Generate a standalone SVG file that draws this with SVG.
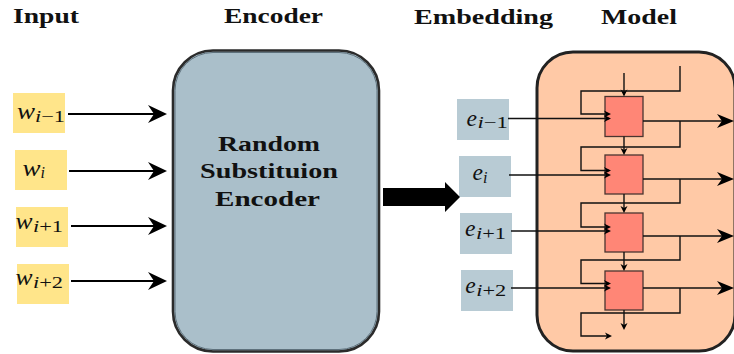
<svg xmlns="http://www.w3.org/2000/svg" width="734" height="354" viewBox="0 0 734 354">
<style>
  .hdr { font-family: "Liberation Serif", "Times New Roman", serif; font-weight: bold; font-size: 22px; fill: #111; }
  .enc { font-family: "Liberation Serif", "Times New Roman", serif; font-weight: bold; font-size: 20px; fill: #111; }
  .m { font-family: "Liberation Serif", "Times New Roman", serif; font-style: italic; font-size: 24px; fill: #111; }
  .s { font-family: "Liberation Serif", "Times New Roman", serif; font-size: 16px; fill: #111; }
  .si { font-style: italic; }
  .inbox { fill: #FFE58A; }
  .embox { fill: #B8CBD4; }
  .cell { fill: #FF8676; stroke: #4A3530; stroke-width: 1.3; }
  .big { stroke: #000; stroke-width: 2; fill: none; }
  .thin { stroke: #111; stroke-width: 1.4; fill: none; }
</style>
<defs>
  <marker id="bigHead" viewBox="-20 -10 21 20" refX="-5" refY="0" markerWidth="21" markerHeight="20" markerUnits="userSpaceOnUse" orient="auto">
    <path d="M0,0 L-19,-9 L-13,0 L-19,9 Z" fill="#000"/>
  </marker>
  <marker id="outHead" viewBox="-18 -8 19 16" refX="-5" refY="0" markerWidth="19" markerHeight="16" markerUnits="userSpaceOnUse" orient="auto">
    <path d="M0,0 L-17,-7 L-12,0 L-17,7 Z" fill="#000"/>
  </marker>
  <marker id="smallHead" viewBox="-8 -4 9 8" refX="-2" refY="0" markerWidth="9" markerHeight="8" markerUnits="userSpaceOnUse" orient="auto">
    <path d="M0,0 L-7,-3.5 L-5,0 L-7,3.5 Z" fill="#000"/>
  </marker>
</defs>

<g id="headers">
  <text class="hdr" x="13" y="23" textLength="66" lengthAdjust="spacingAndGlyphs">Input</text>
  <text class="hdr" x="224" y="23" textLength="99" lengthAdjust="spacingAndGlyphs">Encoder</text>
  <text class="hdr" x="414" y="24" textLength="139" lengthAdjust="spacingAndGlyphs">Embedding</text>
  <text class="hdr" x="601" y="24" textLength="76" lengthAdjust="spacingAndGlyphs">Model</text>
</g>

<g id="encoder">
  <rect x="173" y="50.5" width="206" height="301" rx="40" ry="40" fill="#AABFCA" stroke="#2B2B2B" stroke-width="2.6"/>
  <rect x="175" y="52.5" width="202" height="297" rx="38" ry="38" fill="none" stroke="#5E717C" stroke-width="1"/>
  <text class="enc" x="218" y="151" textLength="102" lengthAdjust="spacingAndGlyphs">Random</text>
  <text class="enc" x="200" y="178" textLength="138" lengthAdjust="spacingAndGlyphs">Substituion</text>
  <text class="enc" x="215" y="206" textLength="105" lengthAdjust="spacingAndGlyphs">Encoder</text>
</g>

<g id="model">
  <rect x="537" y="52" width="198" height="299" rx="36" ry="36" fill="#FFC9A6" stroke="#222" stroke-width="3"/>
</g>

<g id="in_wim1">
  <rect class="inbox" x="13" y="93" width="52" height="40"/>
  <text class="m" x="17" y="119" textLength="18" lengthAdjust="spacingAndGlyphs">w</text>
  <text class="s" x="35" y="122" textLength="30" lengthAdjust="spacingAndGlyphs"><tspan class="si">i</tspan>−1</text>
</g>
<g id="in_wi">
  <rect class="inbox" x="15" y="150" width="52" height="40"/>
  <text class="m" x="22.5" y="175.5" textLength="18" lengthAdjust="spacingAndGlyphs">w</text>
  <text class="s si" x="40.5" y="178">i</text>
</g>
<g id="in_wip1">
  <rect class="inbox" x="16" y="207" width="52" height="40"/>
  <text class="m" x="15.5" y="229" textLength="17" lengthAdjust="spacingAndGlyphs">w</text>
  <text class="s" x="33" y="232" textLength="30" lengthAdjust="spacingAndGlyphs"><tspan class="si">i</tspan>+1</text>
</g>
<g id="in_wip2">
  <rect class="inbox" x="17" y="264" width="52" height="40"/>
  <text class="m" x="15.5" y="285" textLength="17" lengthAdjust="spacingAndGlyphs">w</text>
  <text class="s" x="33" y="288" textLength="30" lengthAdjust="spacingAndGlyphs"><tspan class="si">i</tspan>+2</text>
</g>

<g id="em_eim1">
  <rect class="embox" x="457" y="99" width="52" height="41"/>
  <text class="m" x="466.5" y="125.5" textLength="10.5" lengthAdjust="spacingAndGlyphs">e</text>
  <text class="s" x="477.5" y="128" textLength="30.5" lengthAdjust="spacingAndGlyphs"><tspan class="si">i</tspan>−1</text>
</g>
<g id="em_ei">
  <rect class="embox" x="459" y="156" width="52" height="41"/>
  <text class="m" x="472.5" y="180" textLength="10.5" lengthAdjust="spacingAndGlyphs">e</text>
  <text class="s si" x="483" y="183">i</text>
</g>
<g id="em_eip1">
  <rect class="embox" x="460" y="213" width="52" height="41"/>
  <text class="m" x="465" y="236" textLength="10.5" lengthAdjust="spacingAndGlyphs">e</text>
  <text class="s" x="476" y="238.5" textLength="30" lengthAdjust="spacingAndGlyphs"><tspan class="si">i</tspan>+1</text>
</g>
<g id="em_eip2">
  <rect class="embox" x="461" y="270" width="52" height="41"/>
  <text class="m" x="465.3" y="293" textLength="10.5" lengthAdjust="spacingAndGlyphs">e</text>
  <text class="s" x="476.3" y="295.5" textLength="30" lengthAdjust="spacingAndGlyphs"><tspan class="si">i</tspan>+2</text>
</g>

<g id="cell1"><rect class="cell" x="605" y="96.5" width="38" height="40"/></g>
<g id="cell2"><rect class="cell" x="605" y="155" width="38" height="39"/></g>
<g id="cell3"><rect class="cell" x="605" y="213" width="38" height="39"/></g>
<g id="cell4"><rect class="cell" x="605" y="271" width="38" height="39"/></g>

<g id="connectors">
  <!-- input to encoder -->
  <line class="big" x1="68" y1="114" x2="162" y2="114" marker-end="url(#bigHead)"/>
  <line class="big" x1="69" y1="171" x2="162" y2="171" marker-end="url(#bigHead)"/>
  <line class="big" x1="71" y1="226" x2="162" y2="226" marker-end="url(#bigHead)"/>
  <line class="big" x1="71" y1="281" x2="162" y2="281" marker-end="url(#bigHead)"/>
  <!-- encoder to embedding -->
  <path d="M383,188 L445,188 L445,182 L460,197 L445,212 L445,206 L383,206 Z" fill="#000"/>
  <!-- embeddings into cells -->
  <line class="thin" x1="508" y1="118.5" x2="609" y2="118.5" marker-end="url(#smallHead)"/>
  <line class="thin" x1="509" y1="175" x2="609" y2="175" marker-end="url(#smallHead)"/>
  <line class="thin" x1="511" y1="231" x2="609" y2="231" marker-end="url(#smallHead)"/>
  <line class="thin" x1="511" y1="288" x2="609" y2="288" marker-end="url(#smallHead)"/>
  <!-- vertical chain -->
  <line class="thin" x1="624" y1="73" x2="624" y2="94.5" marker-end="url(#smallHead)"/>
  <line class="thin" x1="624" y1="136.5" x2="624" y2="153" marker-end="url(#smallHead)"/>
  <line class="thin" x1="624" y1="194" x2="624" y2="211" marker-end="url(#smallHead)"/>
  <line class="thin" x1="624" y1="252" x2="624" y2="269" marker-end="url(#smallHead)"/>
  <line class="thin" x1="624" y1="310" x2="624" y2="328" marker-end="url(#smallHead)"/>
  <!-- loops -->
  <path class="thin" d="M680,66 L680,91 L581,91 L581,114 L609,114" marker-end="url(#smallHead)"/>
  <path class="thin" d="M680,121 L680,147 L581,147 L581,170.5 L609,170.5" marker-end="url(#smallHead)"/>
  <path class="thin" d="M680,179 L680,203 L581,203 L581,227 L609,227" marker-end="url(#smallHead)"/>
  <path class="thin" d="M680,236 L680,260 L581,260 L581,283.5 L609,283.5" marker-end="url(#smallHead)"/>
  <path class="thin" d="M680,288 L680,313 L581,313 L581,336 L610,336" marker-end="url(#smallHead)"/>
  <!-- outputs -->
  <line class="thin" x1="643" y1="121" x2="729" y2="121" marker-end="url(#outHead)"/>
  <line class="thin" x1="643" y1="179" x2="729" y2="179" marker-end="url(#outHead)"/>
  <line class="thin" x1="643" y1="236" x2="729" y2="236" marker-end="url(#outHead)"/>
  <line class="thin" x1="643" y1="288" x2="729" y2="288" marker-end="url(#outHead)"/>
</g>
</svg>
